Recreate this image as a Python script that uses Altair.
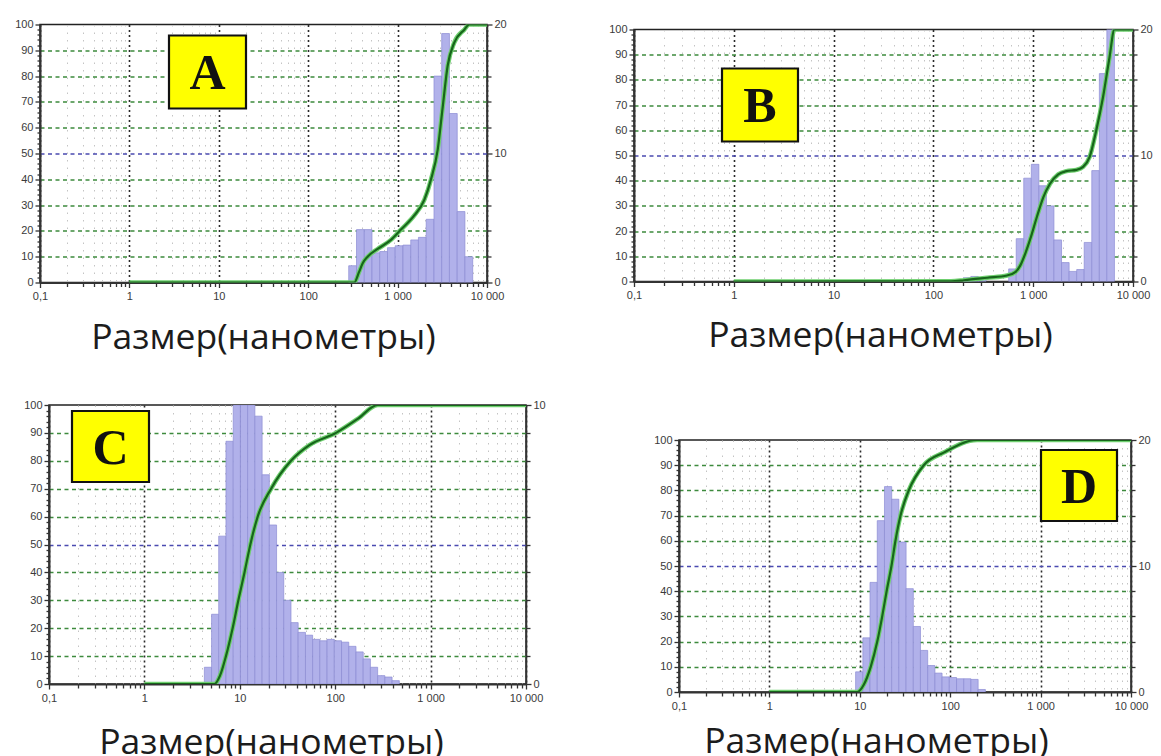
import json
import altair as alt
import pandas as pd

# ---------------- data ----------------
panel_letters = ["A", "B", "C", "D"]
axis_title = "Размер(нанометры)"

x_major = [0.1, 1, 10, 100, 1000, 10000]
x_labels = ["0,1", "1", "10", "100", "1 000", "10 000"]

# Panel A: histogram bin edges (nm) and intensity (%), cumulative curve
a_edges = [284, 347, 424, 517, 631, 771, 940, 1148, 1403, 1711, 2089, 2553,
           3114, 3802, 4645, 5662, 6918]
a_pct = [1.3, 4.1, 4.1, 2.3, 2.4, 2.7, 2.85, 2.9, 3.3, 3.5, 4.9, 16.0, 19.3,
         13.1, 5.5, 2.0]
a_cum_size = [1, 328, 370, 407, 462, 598, 843, 1091, 1538, 1990, 2365, 2810,
              3195, 3631, 4306, 5572, 6335, 10000]
a_cum = [0, 0, 4, 7.5, 10, 13, 16.5, 20.5, 26, 32, 40, 51.5, 68, 84, 93, 98,
         100, 100]

# Panel B
b_edges = [200, 237, 282, 337, 400, 476, 568, 676, 804, 957, 1140, 1358, 1614,
           1923, 2291, 2729, 3243, 3864, 4603, 5470, 6516]
b_pct = [0.3, 0.4, 0.3, 0, 0, 0, 1.0, 3.4, 8.2, 9.3, 7.6, 6.0, 3.3, 1.5, 0.8,
         0.95, 3.1, 8.8, 16.5, 20]
b_cum_size = [1, 150, 203, 346, 547, 661, 741, 831, 947, 1086, 1265, 1473,
              1783, 2157, 2711, 3162, 3681, 4288, 5000, 5821, 6516, 10000]
b_cum = [0, 0.1, 0.5, 1.5, 2.4, 3.7, 6.3, 11, 17.6, 25.5, 33.5, 38.8, 42.5,
         43.8, 44.3, 45.5, 49.5, 60, 73, 89, 100, 100]

# Panel C
c_edges = [4.25, 5.06, 6.01, 7.16, 8.53, 10.16, 12.08, 14.39, 17.14, 20.4,
           24.3, 28.9, 34.4, 40.9, 48.8, 58.0, 69.0, 82.2, 97.9, 116.5, 138.7,
           165.2, 196.7, 233.9, 278.6, 331.7, 394.5, 469.9]
c_pct = [0.6, 2.5, 5.3, 8.7, 10, 10, 10, 9.6, 7.5, 5.7, 4.0, 3.0, 2.2, 1.85,
         1.75, 1.6, 1.55, 1.6, 1.55, 1.5, 1.35, 1.15, 0.9, 0.6, 0.3, 0.25, 0.12]
c_cum_size = [1, 5.41, 6.2, 7.16, 8.41, 9.66, 11.2, 12.9, 15.4, 21.3, 34.4,
              53.6, 102, 172, 279, 10000]
c_cum = [0, 0, 3, 10, 20, 30, 40, 50, 60, 70, 80, 85.6, 90, 95, 100, 100]

# Panel D
d_edges = [8.99, 10.81, 12.97, 15.60, 18.75, 22.54, 27.04, 32.51, 39.08,
           46.88, 56.36, 67.76, 81.28, 97.72, 117.5, 141.3, 169.4, 203.7, 244.9]
d_pct = [1.6, 4.3, 8.7, 13.6, 16.3, 15.3, 11.9, 8.2, 5.2, 3.3, 2.1, 1.5, 1.2,
         1.15, 1.05, 1.05, 1.0, 0.2]
d_cum_size = [1, 9.37, 11.1, 13.2, 15.6, 17.7, 19.8, 22.4, 24.8, 28.2, 34.8,
              51, 84.7, 198, 10000]
d_cum = [0, 0, 3, 10, 20, 30, 40, 50, 60, 70, 80, 90, 95, 100, 100]

right_max = [20, 20, 10, 20]

# ---------------- styling helpers ----------------
LABEL_FONT = "Liberation Sans"
x_ticks = sorted(x_major + [d * m for d in x_major[:-1] for m in range(2, 10)])
maj = json.dumps(x_major)
x_label_expr = (f"indexof({maj}, datum.value) >= 0 ? "
                f"{json.dumps(x_labels)}[indexof({maj}, datum.value)] : ''")
is_major = f"indexof({maj}, datum.value) >= 0"


def x_axis(tx, ty):
    return alt.Axis(
        values=x_ticks, labelExpr=x_label_expr, labelFlush=False,
        labelOverlap=False, labelFont=LABEL_FONT, labelFontSize=11,
        labelColor="#3a3a3a", labelPadding=3,
        grid=True,
        gridColor={"condition": {"test": is_major, "value": "#2a2a2a"}, "value": "#c4c4c4"},
        gridDash={"condition": {"test": is_major, "value": [2, 3]}, "value": [1.5, 6]},
        gridWidth={"condition": {"test": is_major, "value": 1.6}, "value": 1},
        tickSize={"condition": {"test": is_major, "value": 5}, "value": 4},
        tickColor="#333", tickWidth=1.3,
        domainColor="#333", domainWidth=2,
        title=axis_title, titleFont="Open Sans", titleFontSize=35.5,
        titleFontWeight="normal", titleColor="#1c1c1c",
        titleX=tx, titleY=ty, titleBaseline="middle", titleAlign="center",
    )


left_major = "datum.value % 10 == 0"
left_axis = alt.Axis(
    orient="left", values=list(range(0, 101, 2)),
    labelExpr=f"{left_major} ? '' + datum.value : ''",
    labelOverlap=False, labelFont=LABEL_FONT, labelFontSize=11,
    labelColor="#3a3a3a", labelPadding=2,
    grid=True,
    gridColor={"condition": {"test": "datum.value == 50", "value": "#4a4ab0"}, "value": "#3d8a3d"},
    gridOpacity={"condition": {"test": f"{left_major} && datum.value > 0 && datum.value < 100", "value": 1}, "value": 0},
    gridDash=[4, 3.5], gridWidth=1.3,
    tickSize={"condition": {"test": left_major, "value": 5}, "value": 3},
    tickColor="#333", tickWidth=1.3, domainColor="#333", domainWidth=2,
    title=None,
)


def right_axis(mx):
    step = 2 if mx == 20 else 1
    return alt.Axis(
        orient="right", values=list(range(0, mx + 1, step)),
        labelExpr="datum.value % 10 == 0 ? '' + datum.value : ''",
        labelOverlap=False, labelFont=LABEL_FONT, labelFontSize=11,
        labelColor="#3a3a3a", labelPadding=2, grid=False,
        tickSize={"condition": {"test": "datum.value % 10 == 0", "value": 5}, "value": 4},
        tickColor="#333", tickWidth=1.3, domainColor="#333", domainWidth=1.5,
        title=None,
    )


def make_panel(i, edges, pct, cum_size, cum, w, h, box, tx, ty):
    xs = alt.Scale(type="log", domain=[0.1, 10000], nice=False)
    xa = x_axis(tx, ty)
    bars_df = pd.DataFrame({"lo": edges[:-1], "hi": edges[1:], "pct": pct})
    bars_df = bars_df[bars_df["pct"] > 0]
    line_df = pd.DataFrame({"size": cum_size, "cum": cum})
    lab_df = pd.DataFrame({"letter": [panel_letters[i]]})

    bars = alt.Chart(bars_df).mark_rect(
        fill="#b1b1ea", stroke="#8d8dd4", strokeWidth=0.7, clip=True
    ).encode(
        x=alt.X("lo:Q", scale=xs, axis=xa),
        x2="hi:Q",
        y=alt.Y("pct:Q", scale=alt.Scale(domain=[0, right_max[i]], nice=False),
                axis=right_axis(right_max[i])),
        y2=alt.datum(0),
    )
    ys = alt.Scale(domain=[0, 100], nice=False)
    halo = alt.Chart(line_df).mark_line(
        color="#6fcf6f", strokeWidth=4.5, interpolate="monotone", clip=True
    ).encode(x=alt.X("size:Q", scale=xs, axis=xa),
             y=alt.Y("cum:Q", scale=ys, axis=left_axis))
    core = alt.Chart(line_df).mark_line(
        color="#17661b", strokeWidth=2.2, interpolate="monotone", clip=True
    ).encode(x=alt.X("size:Q", scale=xs, axis=xa),
             y=alt.Y("cum:Q", scale=ys, axis=left_axis))
    lines = alt.layer(halo, core)

    x0, x1, y0, y1 = box
    rect = alt.Chart(lab_df).mark_rect(
        fill="#ffff00", stroke="#111111", strokeWidth=2.2
    ).encode(x=alt.value(x0), x2=alt.value(x1), y=alt.value(y0), y2=alt.value(y1))
    txt = alt.Chart(lab_df).mark_text(
        font="Liberation Serif", fontWeight="bold", fontSize=50,
        color="#111111", align="center", baseline="middle", dy=2
    ).encode(x=alt.value((x0 + x1) / 2), y=alt.value((y0 + y1) / 2),
             text="letter:N")

    return alt.layer(bars, lines, rect, txt).resolve_scale(
        y="independent"
    ).properties(width=w, height=h,
                 view=alt.ViewBackground(stroke="#222222", strokeWidth=1.5))


def sp(w, h):
    # invisible layout spacer
    return alt.Chart(pd.DataFrame({"s": [0]})).mark_rule(
        strokeOpacity=0, strokeWidth=0.01
    ).encode(x=alt.value(0), y=alt.value(0), y2=alt.value(0)).properties(
        width=w, height=h)


pA = make_panel(0, a_edges, a_pct, a_cum_size, a_cum, 447, 258,
                (129, 206, 11, 84), 223, 55)
pB = make_panel(1, b_edges, b_pct, b_cum_size, b_cum, 499, 252,
                (88, 164, 39, 112), 246, 54)
pC = make_panel(2, c_edges, c_pct, c_cum_size, c_cum, 477, 279,
                (23, 100, 6, 77), 222, 58)
pD = make_panel(3, d_edges, d_pct, d_cum_size, d_cum, 452, 252,
                (362, 438, 10, 81), 197, 49)

row1 = alt.hconcat(
    sp(1, 1),
    alt.hconcat(
        alt.vconcat(sp(1, 0.5), pA, spacing=0),
        alt.vconcat(sp(1, 5.5), pB, spacing=0),
        spacing=100,
    ),
    spacing=0,
)
row2 = alt.hconcat(
    sp(10, 1),
    alt.hconcat(pC, alt.vconcat(sp(1, 27.5), pD, spacing=0), spacing=106),
    spacing=0,
)

chart = alt.vconcat(row1, row2, spacing=40.5).properties(
    padding={"left": 2, "top": 7.5, "right": 0, "bottom": 0},
    background="white",
).configure_view(stroke="transparent")

chart.save("out.html", embed_options={"renderer": "svg", "actions": False})
